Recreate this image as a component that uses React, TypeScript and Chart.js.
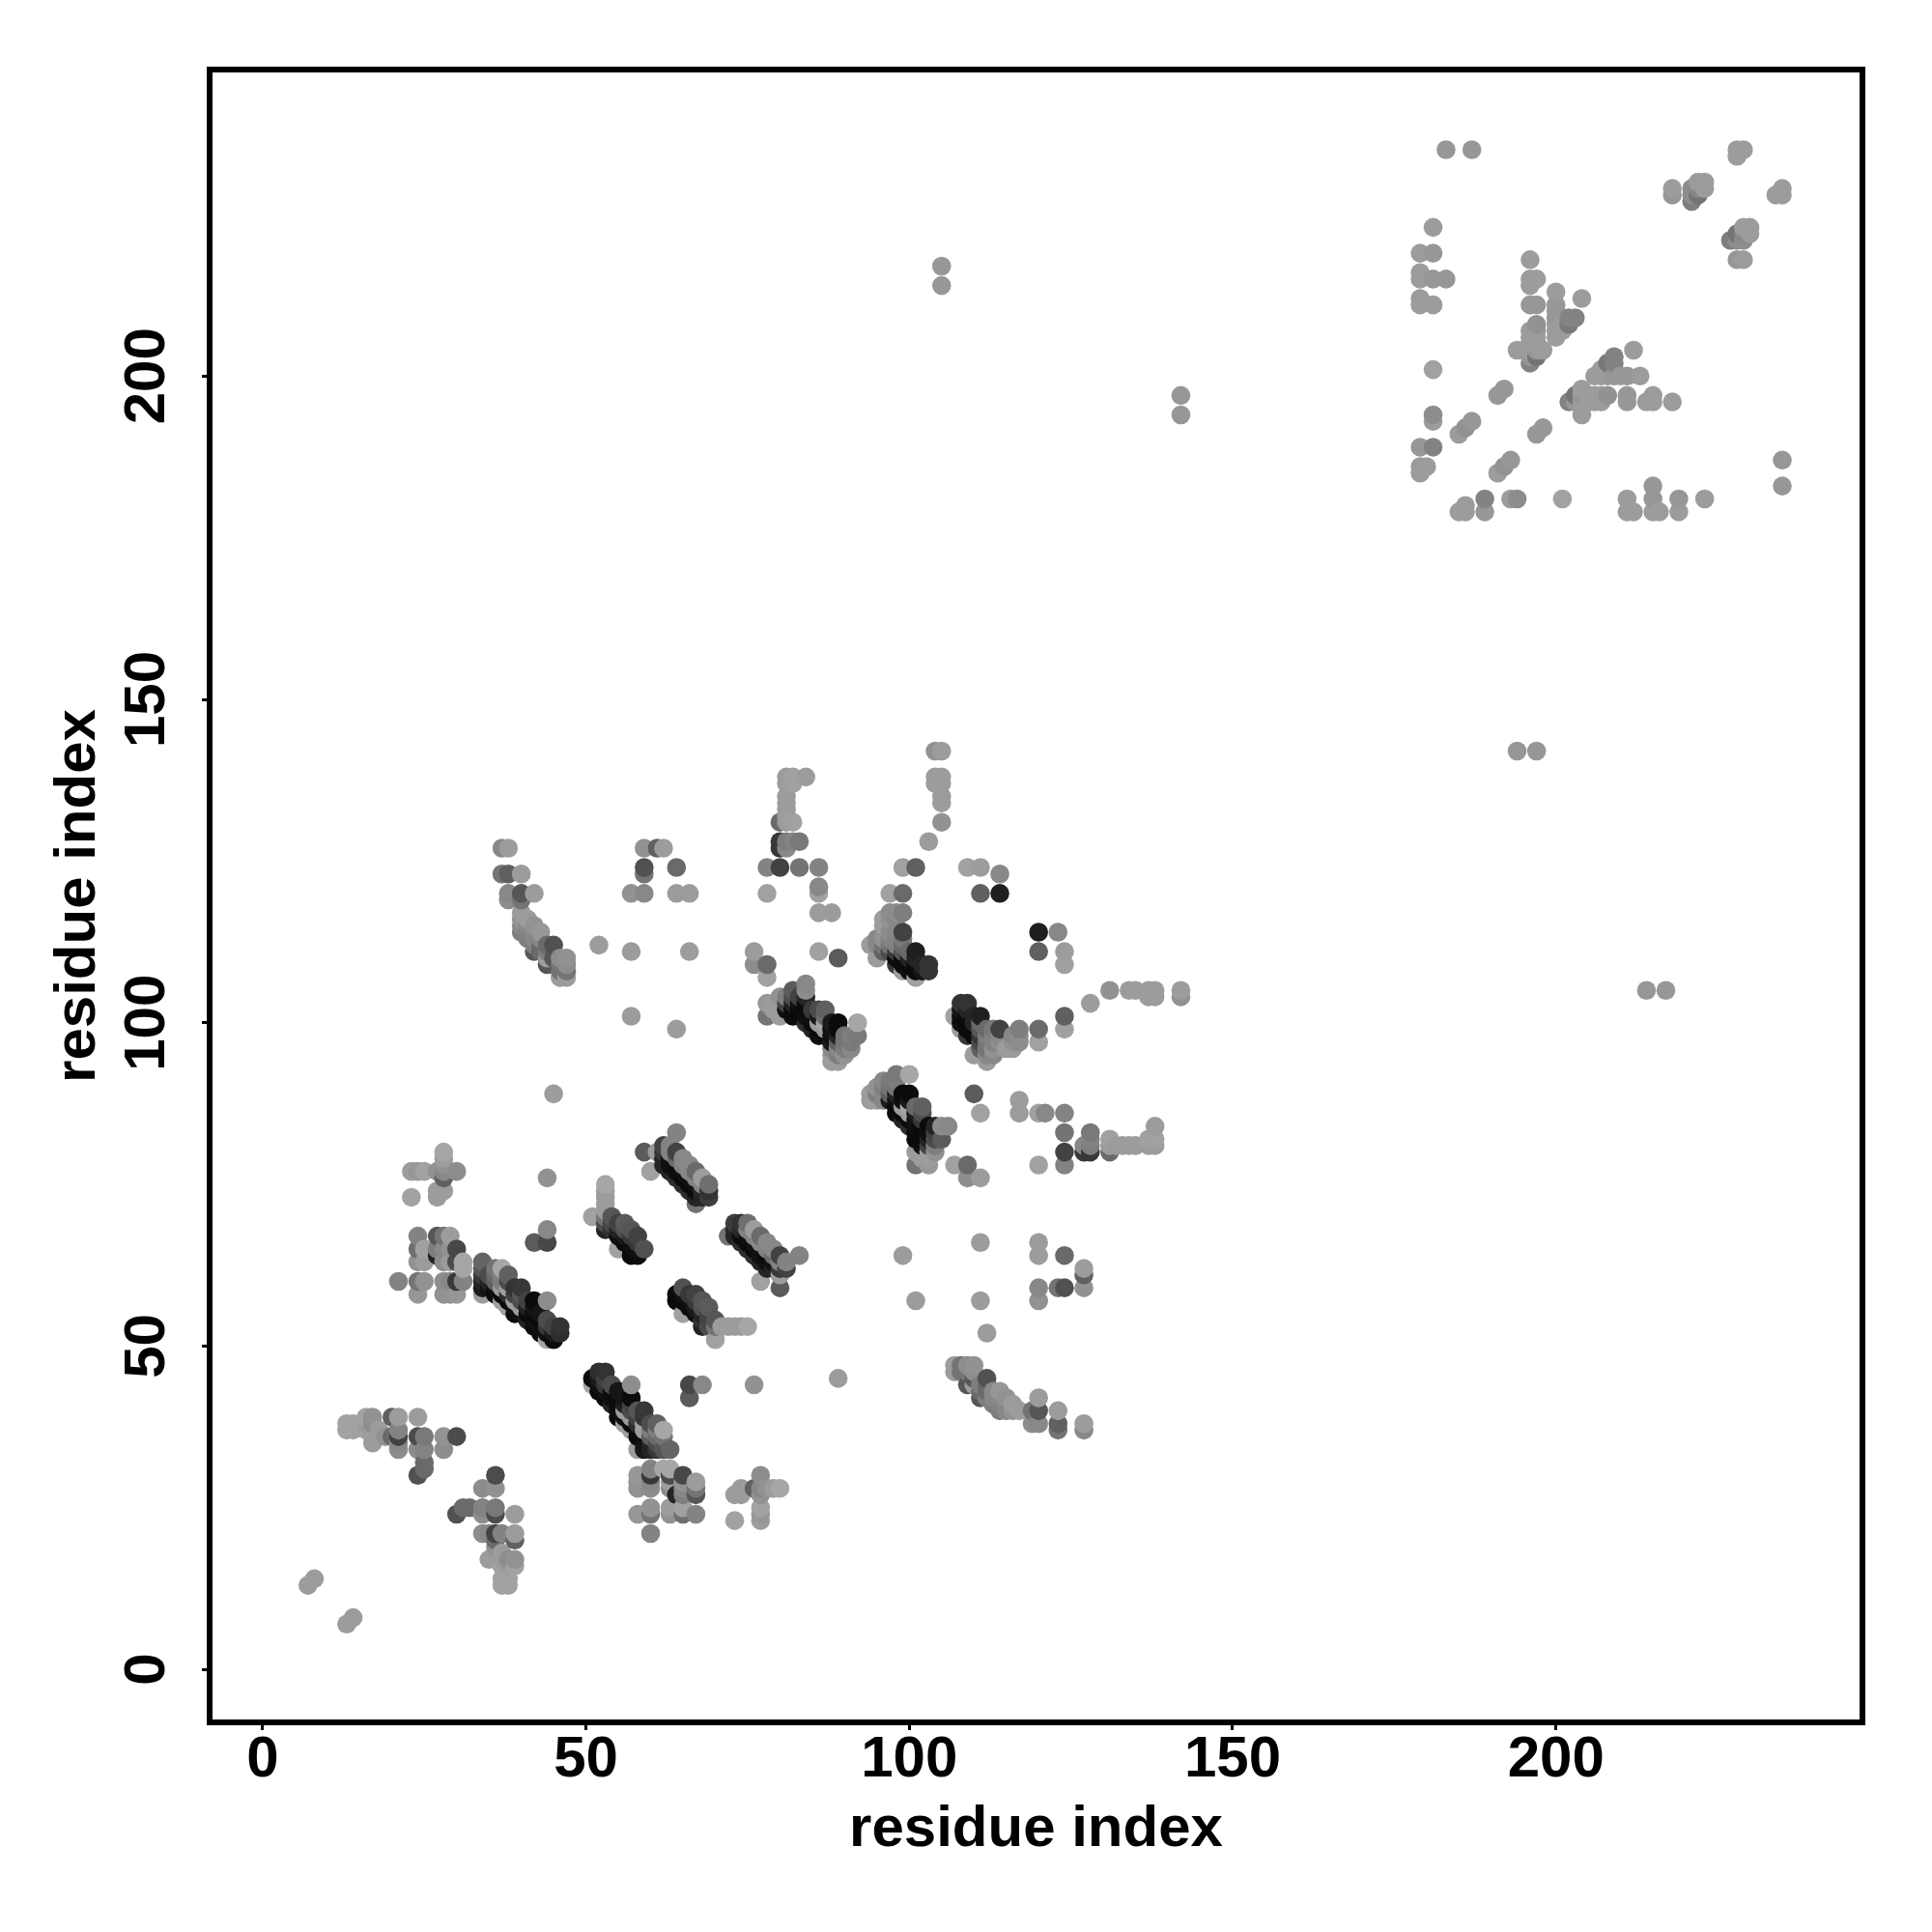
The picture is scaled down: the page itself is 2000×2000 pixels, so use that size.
import React, { useEffect, useRef } from "react";
import { Chart, registerables } from "chart.js";

Chart.register(...registerables);

// [residue i, residue j, grey level]; the contact map is symmetric, so one triangle is listed.
const terminalContacts = [[7,13,156],[8,14,156]];
const sheetA = [[13,37,162],[13,38,162],[14,37,162],[14,38,162],[16,37,162],[16,38,156],[16,39,162],[17,35,156],[17,36,156],[17,37,156],[17,38,141],[17,39,146],[18,36,156],[18,37,156],[19,36,146],[20,36,106],[20,39,96],[21,34,141],[21,35,136],[21,36,66],[21,37,131],[21,39,156],[24,30,81],[24,34,141],[24,36,76],[24,39,156],[25,31,106],[25,32,106],[25,34,131],[25,36,121],[28,34,141],[28,36,146],[30,36,76]];
const sheetB = [[23,73,162],[23,77,156],[24,77,151],[25,77,162],[27,73,156],[27,74,156],[27,77,146],[28,74,156],[28,76,96],[28,77,136],[28,78,146],[28,79,156],[28,80,166],[30,77,141]];
const sheetC = [[21,60,131],[24,58,151],[24,60,116],[24,63,146],[24,65,111],[24,67,131],[25,60,146],[25,63,156],[25,65,161],[27,64,36],[27,65,126],[27,67,86],[28,58,146],[28,60,141],[28,63,141],[28,65,136],[28,67,116],[29,58,146],[29,60,136],[29,63,156],[29,65,146],[29,67,156],[30,58,151],[30,60,56],[30,63,76],[30,65,71],[31,60,131],[31,62,166],[31,63,166]];
const strandA = [[34,58,156],[34,59,26],[34,60,36],[34,61,56],[34,62,86],[34,63,101],[35,59,21],[35,60,36],[35,61,76],[36,58,11],[36,59,16],[36,60,96],[36,61,106],[36,62,116],[37,57,161],[37,58,11],[37,59,156],[37,60,126],[37,61,126],[37,62,166],[38,56,161],[38,57,11],[38,58,46],[38,59,161],[38,60,76],[38,61,96],[39,55,11],[39,56,16],[39,57,156],[39,58,66],[39,59,51],[40,55,16],[40,56,156],[40,57,76],[40,58,86],[40,59,56],[41,54,36],[41,55,11],[41,56,31],[41,57,66],[42,53,11],[42,54,16],[42,55,11],[42,56,21],[42,57,11],[43,52,11],[43,53,16],[43,54,11],[43,55,21],[44,51,166],[44,52,16],[44,53,56],[44,54,76],[44,57,141],[45,51,11],[45,52,26],[45,53,66],[46,52,46],[46,53,51]];
const strandB = [[51,70,161],[53,68,36],[53,69,76],[53,70,116],[53,71,156],[53,72,156],[53,73,156],[53,74,156],[53,75,166],[54,68,51],[54,69,71],[54,70,86],[55,65,161],[55,67,16],[55,68,36],[55,69,66],[56,66,11],[56,67,26],[56,68,81],[56,69,91],[57,64,11],[57,65,11],[57,66,16],[57,67,56],[57,68,86],[58,64,11],[58,65,16],[58,66,56],[58,67,66],[59,65,81]];
const strandC = [[59,80,91],[60,77,161],[61,80,156],[62,78,36],[62,79,36],[62,80,56],[62,81,66],[63,77,36],[63,78,16],[63,79,16],[63,80,131],[63,81,131],[64,76,46],[64,77,16],[64,78,11],[64,79,106],[64,80,66],[64,83,131],[65,75,46],[65,76,11],[65,77,16],[65,78,131],[65,79,136],[66,74,46],[66,75,11],[66,76,16],[66,77,136],[66,78,136],[67,72,116],[67,73,36],[67,74,11],[67,75,16],[67,76,131],[67,77,106],[68,73,36],[68,74,40],[68,75,131],[68,76,156],[69,73,60],[69,74,50],[69,75,111]];
const loopSingles = [[42,66,91],[44,66,71],[44,68,136],[44,76,146],[45,89,156],[52,112,156],[57,101,156],[57,111,156],[64,99,156],[66,111,156]];
const sheetD = [[37,123,116],[37,127,136],[38,119,141],[38,120,136],[38,123,96],[38,127,156],[40,114,126],[40,115,136],[40,116,146],[40,117,156],[40,119,116],[40,120,86],[40,123,156],[41,113,126],[41,114,131],[41,115,136],[41,116,156],[42,111,86],[42,112,126],[42,113,136],[42,114,136],[42,115,146],[42,120,156],[43,111,106],[43,112,106],[43,113,136],[43,114,151],[44,109,86],[44,110,156],[44,111,126],[44,112,106],[45,110,86],[45,112,81],[46,107,156],[46,108,116],[46,109,116],[46,110,141],[47,107,156],[47,108,116],[47,109,141],[47,110,146]];
const sheetE = [[57,120,146],[59,120,136],[59,123,116],[59,124,81],[59,127,146],[61,127,96],[62,127,156],[64,120,156],[64,124,106],[66,120,156]];
const strandD = [[78,101,116],[78,103,151],[79,102,156],[79,103,156],[80,101,156],[80,102,156],[80,103,156],[80,104,146],[81,102,16],[81,103,66],[81,104,126],[82,101,11],[82,102,11],[82,103,36],[82,104,76],[82,105,91],[83,101,11],[83,102,11],[83,103,16],[83,104,66],[84,100,46],[84,101,16],[84,102,11],[84,103,11],[84,104,36],[84,105,141],[84,106,136],[85,99,36],[85,100,11],[85,101,16],[85,102,56],[86,98,16],[86,99,11],[86,100,156],[86,101,26],[86,102,76],[87,98,11],[87,99,156],[87,100,166],[87,101,106],[87,102,96],[88,94,156],[88,95,156],[88,96,136],[88,97,26],[88,98,16],[88,99,16],[88,100,26],[89,94,156],[89,95,126],[89,96,136],[89,97,96],[89,98,36],[89,99,11],[89,100,11],[90,95,146],[90,96,126],[90,97,116],[90,98,116],[91,96,136],[91,97,121],[91,98,126],[92,98,121],[92,100,166]];
const strandE = [[94,112,156],[95,110,156],[95,112,136],[95,113,136],[96,111,96],[96,112,116],[96,113,146],[96,115,156],[96,116,156],[97,111,76],[97,112,116],[97,113,131],[97,114,141],[97,116,146],[97,117,141],[97,120,161],[98,109,56],[98,110,11],[98,111,56],[98,112,126],[98,113,131],[98,114,136],[98,116,136],[98,117,141],[99,108,156],[99,109,11],[99,110,11],[99,111,86],[99,112,106],[99,113,121],[99,114,66],[99,117,126],[99,120,106],[99,124,161],[100,108,16],[100,109,11],[100,110,36],[100,111,106],[101,107,161],[101,108,11],[101,109,11],[101,110,36],[101,111,31],[101,124,96],[102,108,21],[102,109,36],[103,108,51],[103,109,51],[103,128,156]];
const sheetF = [[76,109,141],[76,111,156],[78,107,161],[78,109,106],[78,120,161],[78,124,131],[80,124,66],[80,127,56],[80,128,56],[80,131,106],[81,127,136],[81,128,126],[81,131,156],[81,132,156],[81,133,156],[81,134,156],[81,135,156],[81,137,156],[81,138,156],[82,128,131],[82,131,161],[82,137,161],[82,138,161],[83,124,116],[83,128,121],[84,138,156],[86,111,161],[86,117,156],[86,120,161],[86,121,136],[86,124,131],[88,117,156],[89,110,91]];
const sheetG = [[104,137,156],[104,138,156],[104,142,146],[105,131,146],[105,134,156],[105,135,156],[105,137,156],[105,138,156],[105,142,156],[109,124,161],[111,120,96],[111,124,156],[114,120,31],[114,123,136]];
const domainLinks = [[105,214,151],[105,217,151],[142,194,151],[142,197,151]];
const domainTwoA = [[179,185,156],[179,186,156],[179,189,151],[179,211,156],[179,212,156],[179,215,156],[179,216,156],[179,219,156],[180,186,156],[181,189,131],[181,193,156],[181,194,141],[181,201,161],[181,211,156],[181,215,151],[181,219,151],[181,223,156],[183,215,151],[183,235,151],[185,191,156],[186,192,146],[187,193,151],[187,235,151],[191,197,151],[192,198,151]];
const domainTwoB = [[194,204,156],[196,202,131],[196,203,151],[196,204,156],[196,205,156],[196,206,156],[196,207,156],[196,211,151],[196,214,156],[196,215,156],[196,218,156],[197,203,116],[197,204,151],[197,205,156],[197,206,156],[197,207,156],[197,208,146],[197,211,151],[197,215,156],[198,204,156],[200,206,156],[200,207,156],[200,208,156],[200,209,151],[200,210,151],[200,211,151],[200,213,156],[201,207,156],[201,208,156],[202,208,121],[202,209,131],[203,209,131],[204,212,156]];
const domainTwoC = [[218,228,151],[218,229,156],[221,227,126],[221,228,141],[221,229,141],[222,228,116],[222,229,136],[222,230,156],[223,229,156],[223,230,156],[228,234,156],[228,235,156],[229,235,156]];

const tickValues = [0, 50, 100, 150, 200];
const axisTitle = "residue index";

const listed = [
  terminalContacts, sheetA, sheetB, sheetC, strandA, strandB, strandC, loopSingles, sheetD,
  sheetE, strandD, strandE, sheetF, sheetG, domainLinks, domainTwoA, domainTwoB, domainTwoC,
].flat();
const contacts = [...listed, ...listed.map(([i, j, g]) => [j, i, g])].sort(
  (a, b) => a[0] - b[0] || a[1] - b[1]
);

const frame = {
  id: "frame",
  afterDatasetsDraw(chart: any) {
    const { ctx, chartArea: a } = chart;
    ctx.save();
    ctx.lineWidth = 6;
    ctx.strokeStyle = "#000";
    ctx.strokeRect(a.left, a.top, a.right - a.left, a.bottom - a.top);
    ctx.restore();
  },
};

const axis = (extra: any) => ({
  type: "linear",
  min: -8.2,
  max: 247.4,
  afterBuildTicks: (s: any) => {
    s.ticks = tickValues.map((value) => ({ value }));
  },
  border: { display: false },
  grid: { drawOnChartArea: false, color: "#000", tickLength: 8, tickWidth: 3 },
  ...extra,
});

const font = { family: "'Liberation Sans'", weight: "bold" as const, size: 60 };

export default function App() {
  const ref = useRef<HTMLCanvasElement>(null);
  useEffect(() => {
    const chart = new Chart(ref.current!, {
      type: "scatter",
      data: {
        datasets: [
          {
            data: contacts.map(([x, y]) => ({ x, y })),
            pointRadius: 9.8,
            pointBorderWidth: 0,
            pointBackgroundColor: contacts.map(([, , g]) => `rgb(${g},${g},${g})`),
          },
        ],
      },
      options: {
        animation: false,
        responsive: false,
        devicePixelRatio: 1,
        layout: { padding: { left: 0, right: 72, top: 72, bottom: 0 } },
        plugins: { legend: { display: false }, tooltip: { enabled: false } },
        scales: {
          x: axis({
            afterFit: (s: any) => {
              s.height = 217;
            },
            ticks: { autoSkip: false, maxRotation: 0, color: "#000", font, padding: -5 },
            title: { display: true, text: axisTitle, color: "#000", font, padding: { top: 0, bottom: 70 } },
          }),
          y: axis({
            afterFit: (s: any) => {
              s.width = 217;
            },
            ticks: { autoSkip: false, minRotation: 90, maxRotation: 90, crossAlign: "center", color: "#000", font, padding: 5.5 },
            title: { display: true, text: axisTitle, color: "#000", font, padding: { top: 45, bottom: 0 } },
          }),
        },
      } as any,
      plugins: [frame],
    });
    return () => chart.destroy();
  }, []);
  return (
    <canvas
      ref={ref}
      width={2000}
      height={2000}
      style={{ position: "absolute", left: 0, top: 0, width: 2000, height: 2000, background: "#fff" }}
    />
  );
}
